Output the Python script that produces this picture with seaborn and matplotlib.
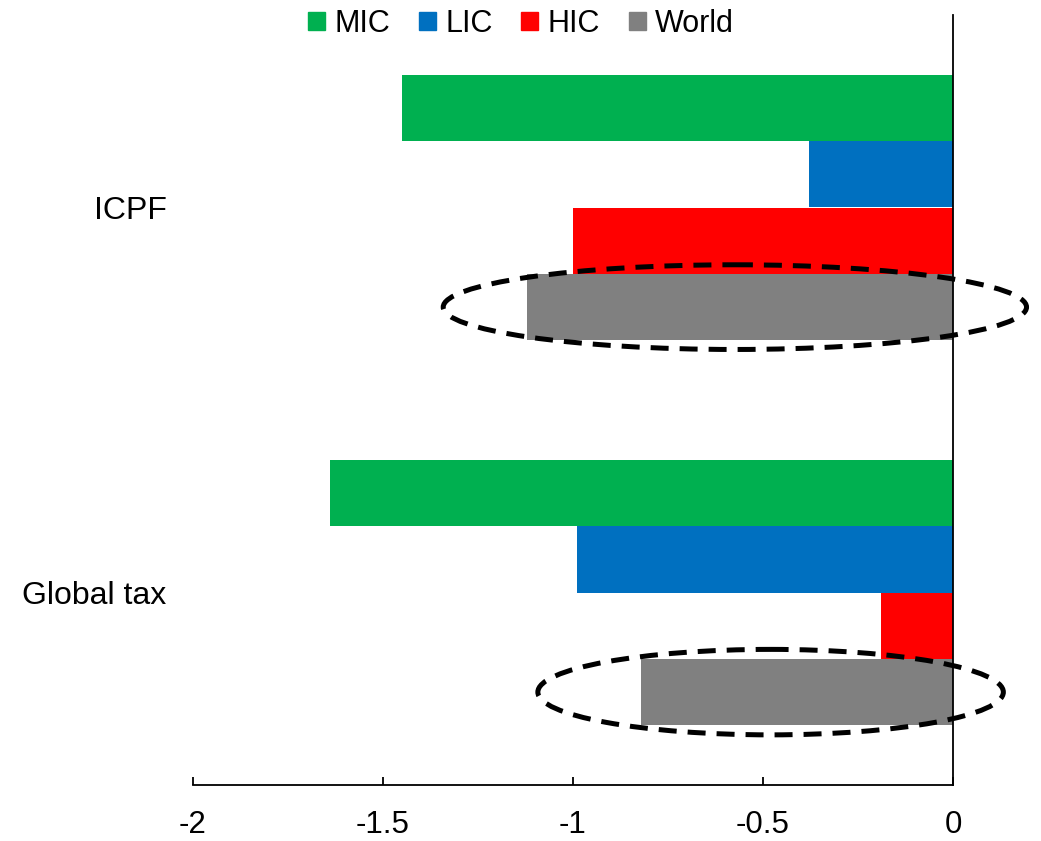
import matplotlib
matplotlib.use("Agg")
import matplotlib.pyplot as plt
from matplotlib.patches import Ellipse
import pandas as pd
import seaborn as sns

policies = ["ICPF", "Global tax"]
groups = ["MIC", "LIC", "HIC", "World"]
mic = [-1.45, -1.64]
lic = [-0.38, -0.99]
hic = [-1.00, -0.19]
world = [-1.12, -0.82]
palette = ["#00B050", "#0070C0", "#FF0000", "#808080"]
xticks = [-2, -1.5, -1, -0.5, 0]

# dashed rings round the World bars: (x centre, width, height) in data units
rings = [(-0.574, 1.535, 0.22), (-0.48, 1.225, 0.222)]

rows = []
for i, p in enumerate(policies):
    for g, vals in zip(groups, [mic, lic, hic, world]):
        rows.append({"policy": p, "group": g, "value": vals[i]})
df = pd.DataFrame(rows)

sns.set_style("white")
plt.rcParams["font.family"] = ["Liberation Sans", "DejaVu Sans"]
plt.rcParams["text.color"] = "black"
plt.rcParams["xtick.color"] = "black"
plt.rcParams["ytick.color"] = "black"
fs = 23

fig = plt.figure(figsize=(10.41, 8.41), dpi=100)
ax = fig.add_axes([193 / 1041, 1 - 785 / 841, (953 - 193) / 1041, (785 - 15) / 841])

sns.barplot(data=df, x="value", y="policy", hue="group", order=policies,
            hue_order=groups, palette=palette, saturation=1, width=0.69,
            linewidth=0, ax=ax)
ax.get_legend().remove()

ax.set_xlim(-2, 0)
ax.set_ylim(1.5, -0.5)
ax.set_xticks(xticks)
ax.set_xticklabels([f"{t:g}" for t in xticks])
ax.set_xlabel("")
ax.set_ylabel("")

for s in ["top", "left"]:
    ax.spines[s].set_visible(False)
for s in ["bottom", "right"]:
    ax.spines[s].set_color("black")
    ax.spines[s].set_linewidth(1.3)

ax.tick_params(axis="x", direction="in", length=6, width=1.3, color="black",
               pad=18, labelsize=22.5, labelcolor="black", bottom=True)
ax.tick_params(axis="y", length=0, pad=19, labelsize=fs, labelcolor="black")

# rings centred on the World bars
world_bars = ax.containers[3]
for bar, (cx, w, h) in zip(world_bars, rings):
    cy = bar.get_y() + bar.get_height() / 2
    e = Ellipse((cx, cy), w, h, fill=False, edgecolor="black", linewidth=3.6,
                linestyle=(0, (3.6, 2.2)), clip_on=False, zorder=5)
    ax.add_patch(e)

handles = [plt.Rectangle((0, 0), 1, 1, color=c) for c in palette]
fig.legend(handles, groups, loc="center", bbox_to_anchor=(521 / 1041, 1 - 24 / 841),
           ncol=4, frameon=False, fontsize=22, handlelength=0.55, handleheight=0.55,
           handletextpad=0.3, columnspacing=0.95, borderaxespad=0, borderpad=0)

fig.savefig("out.png", dpi=100, facecolor="white")
